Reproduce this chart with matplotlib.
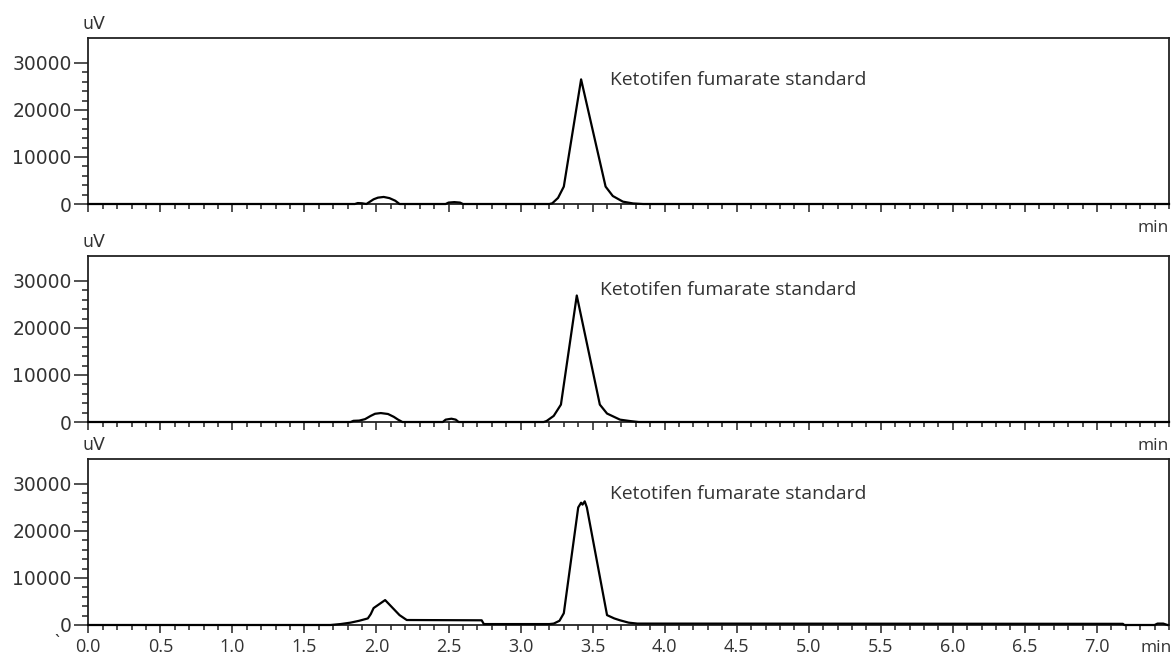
import matplotlib
matplotlib.use("Agg")
import matplotlib.pyplot as plt
from matplotlib.ticker import FixedLocator

# ---- data (time in min, signal in uV) ----
t1 = [0, 1.85, 1.87, 1.90, 1.93, 1.95, 1.98, 2.01, 2.05, 2.09, 2.13, 2.16,
      2.48, 2.50, 2.54, 2.58, 2.60,
      3.20, 3.22, 3.26, 3.30, 3.42, 3.59, 3.64, 3.71, 3.78, 3.85, 7.5]
v1 = [0, 0, 200, 150, 0, 400, 1000, 1350, 1500, 1250, 700, 0,
      0, 300, 400, 300, 0,
      0, 150, 1300, 3700, 26500, 3700, 1700, 500, 120, 0, 0]

t2 = [0, 1.82, 1.84, 1.88, 1.92, 1.96, 1.99, 2.03, 2.08, 2.12, 2.15, 2.18,
      2.46, 2.48, 2.52, 2.55, 2.57,
      3.16, 3.18, 3.23, 3.28, 3.39, 3.55, 3.60, 3.69, 3.76, 3.82, 7.5]
v2 = [0, 0, 250, 300, 600, 1300, 1750, 1900, 1700, 1100, 500, 0,
      0, 500, 700, 500, 0,
      0, 200, 1300, 3700, 26900, 3700, 1800, 500, 200, 0, 0]

t3 = [0, 1.68, 1.75, 1.82, 1.88, 1.94, 1.96, 1.98, 2.06, 2.16, 2.21, 2.73, 2.745,
      3.20, 3.23, 3.27, 3.30, 3.40, 3.42, 3.43, 3.445, 3.46, 3.60, 3.65, 3.69, 3.75, 3.81,
      7.18, 7.19, 7.40, 7.42, 7.46, 7.49]
v3 = [0, 0, 200, 500, 900, 1400, 2300, 3600, 5300, 2100, 1060, 1000, 200,
      200, 300, 900, 2500, 25000, 26000, 25600, 26300, 25000, 2100, 1400, 1000, 500, 300,
      250, 0, 0, 300, 300, 0]

panels = [(t1, v1, 3.62, 26400), (t2, v2, 3.55, 28150), (t3, v3, 3.62, 27900)]

label_text = "Ketotifen fumarate standard"
y_major = [0, 10000, 20000, 30000]
y_minor = list(range(0, 30001, 2000))
x_major = [0.0, 0.5, 1.0, 1.5, 2.0, 2.5, 3.0, 3.5, 4.0, 4.5, 5.0, 5.5, 6.0, 6.5, 7.0]
x_labels = ["0.0", "0.5", "1.0", "1.5", "2.0", "2.5", "3.0", "3.5", "4.0", "4.5",
            "5.0", "5.5", "6.0", "6.5", "7.0"]
x_minor = [round(0.1 * i, 1) for i in range(0, 76)]

W, H = 1175, 656
fig = plt.figure(figsize=(W / 100, H / 100), dpi=100)
left = 88.3 / W
width = (1169 - 88.3) / W
tops = [38, 256, 459]
ph = 166

tick_col = "#333333"
for i, (tt, vv, lx, ly) in enumerate(panels):
    top = tops[i]
    ax = fig.add_axes([left, 1 - (top + ph) / H, width, ph / H])
    ax.plot(tt, vv, color="black", lw=1.6, solid_joinstyle="round", zorder=3, clip_on=False)
    ax.set_xlim(0, 7.5)
    ax.set_ylim(0, 35300)
    for s in ax.spines.values():
        s.set_linewidth(1.3)
        s.set_color("#222222")
    ax.yaxis.set_major_locator(FixedLocator(y_major))
    ax.yaxis.set_minor_locator(FixedLocator(y_minor))
    ax.set_yticklabels([str(v) for v in y_major])
    ax.xaxis.set_major_locator(FixedLocator(x_major))
    ax.xaxis.set_minor_locator(FixedLocator(x_minor))
    ax.tick_params(axis="y", which="major", direction="out", length=10, width=1.1,
                   color="#222222", pad=2, labelsize=13.5, labelcolor=tick_col)
    ax.tick_params(axis="y", which="minor", direction="out", length=4.3, width=1.1,
                   color="#222222")
    ax.tick_params(axis="x", which="major", direction="out", length=6, width=1.1,
                   color="#222222", pad=3)
    ax.tick_params(axis="x", which="minor", direction="out", length=3.6, width=1.1,
                   color="#222222")
    for lab in ax.get_yticklabels():
        lab.set_family("DejaVu Sans")
    if i < 2:
        ax.set_xticklabels([])
        ax.text(1.0, -0.095, "min", transform=ax.transAxes, ha="right", va="top",
                fontsize=12.5, family="Open Sans", color=tick_col)
    else:
        ax.set_xticklabels(x_labels, fontsize=13, family="Open Sans", color=tick_col)
        ax.text(1.003, -0.09, "min", transform=ax.transAxes, ha="right", va="top",
                fontsize=12.5, family="Open Sans", color=tick_col)
    ax.text(-0.005, 1.03, "uV", transform=ax.transAxes, ha="left", va="bottom",
            fontsize=12.5, family="DejaVu Sans", color=tick_col)
    ax.text(lx, ly, label_text, ha="left", va="center", fontsize=13.9,
            family="Open Sans", color=tick_col)

fig.text(57 / W, 1 - 634 / H, "`", fontsize=13, color=tick_col, family="Open Sans",
         ha="center", va="top")

fig.savefig("out.png", dpi=100)
